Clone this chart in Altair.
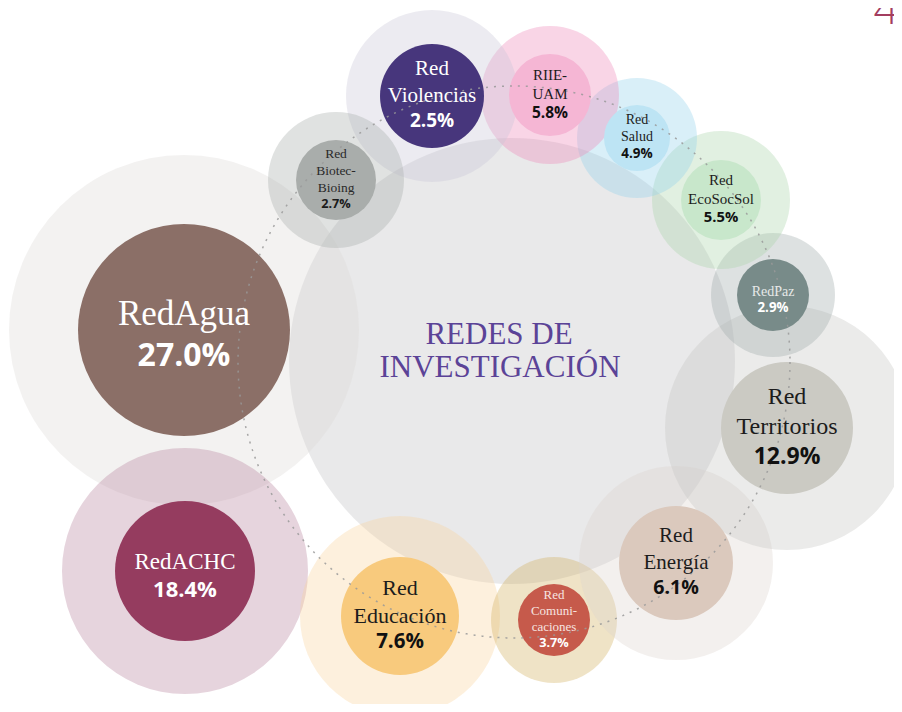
import altair as alt
import pandas as pd

# ---------------- data ----------------
label_lines = [["RedAgua"], ["RedACHC"], ["Red", "Educación"], ["Red", "Comuni-", "caciones"],
               ["Red", "Energía"], ["Red", "Territorios"], ["RedPaz"], ["Red", "EcoSocSol"],
               ["Red", "Salud"], ["RIIE-", "UAM"], ["Red", "Violencias"], ["Red", "Biotec-", "Bioing"]]
shares = [27.0, 18.4, 7.6, 3.7, 6.1, 12.9, 2.9, 5.5, 4.9, 5.8, 2.5, 2.7]
cx = [184, 185, 400, 554, 676, 787, 773, 721, 637, 550, 432, 336]
cy = [330, 571, 616, 620, 563, 428, 295, 200, 138, 95, 96, 180]
r_inner = [106, 70, 59, 36, 57, 66, 36, 40, 33, 41, 52, 40]
r_outer = [175, 123, 100, 63, 97, 122, 62, 69, 60, 69, 86, 68]
inner_colors = ["#8b6f67", "#953c5f", "#f8ca7d", "#c65a4b", "#dbc9bd", "#cbcac3",
                "#788b89", "#c8e7cb", "#bde4f4", "#f5b6d4", "#47367c", "#a9adab"]
halo_colors = ["#f3f2f1", "#e6d4dd", "#fdf0dd", "#efe3c6", "#f3f0ee", "#ebebea",
               "#dde1e1", "#e1f0e1", "#d9eff8", "#f9d5e6", "#ecebf1", "#e0e2e1"]
name_colors = ["#ffffff", "#ffffff", "#1c1c1c", "#f6e4e0", "#1c1c1c", "#1c1c1c",
               "#e6e9e8", "#1c1c1c", "#1c1c1c", "#1c1c1c", "#ffffff", "#2a2a2a"]
pct_colors = ["#ffffff", "#ffffff", "#111111", "#ffffff", "#111111", "#111111",
              "#ffffff", "#111111", "#111111", "#111111", "#ffffff", "#1a1a1a"]
name_sizes = [35, 23, 22, 13, 21, 24, 14, 15, 14, 15, 21, 13.5]
pct_sizes = [32, 22, 20.5, 12.7, 19.6, 23, 13.3, 14.8, 13.5, 15.5, 19, 12.7]

center_circle = {"x": [512], "y": [361], "r": [223], "color": ["#e9e9ea"]}
ring = {"x": [514], "y": [362], "r": [276]}
title_lines = ["REDES DE", "INVESTIGACIÓN"]
title_pos = {"x": [499, 500], "y": [335, 368]}
page_number = {"x": [886], "y": [11], "text": ["4"]}

HALO_ALPHA = 0.35
CENTER_ALPHA = 0.3


def through_alpha(hex_color, alpha):
    h = hex_color.lstrip("#")
    comps = [int(h[k:k + 2], 16) for k in (0, 2, 4)]
    out = [max(0, min(255, round((c - (1 - alpha) * 255) / alpha))) for c in comps]
    return "#%02x%02x%02x" % tuple(out)


X = alt.X("x:Q", scale=alt.Scale(domain=[8, 894], nice=False, zero=False), axis=None)
Y = alt.Y("y:Q", scale=alt.Scale(domain=[8, 704], nice=False, zero=False, reverse=True), axis=None)

# circles
center_df = pd.DataFrame({"x": center_circle["x"], "y": center_circle["y"],
                          "s": [4 * r * r for r in center_circle["r"]],
                          "c": [through_alpha(c, CENTER_ALPHA) for c in center_circle["color"]]})
halo_df = pd.DataFrame({"x": cx, "y": cy, "s": [4 * r * r for r in r_outer],
                        "c": [through_alpha(c, HALO_ALPHA) for c in halo_colors]})
inner_df = pd.DataFrame({"x": cx, "y": cy, "s": [4 * r * r for r in r_inner], "c": inner_colors})
ring_df = pd.DataFrame({"x": ring["x"], "y": ring["y"], "s": [4 * r * r for r in ring["r"]]})

# text layout
name_rows, pct_rows = [], []
for i, lines in enumerate(label_lines):
    n = len(lines)
    lh = 1.25 * name_sizes[i]
    g = 0.6 * name_sizes[i] + 0.64 * pct_sizes[i]
    span = (n - 1) * lh + g
    d = 5 if n == 1 else -1
    y0 = cy[i] + d - span / 2
    for j, t in enumerate(lines):
        name_rows.append({"x": cx[i], "y": y0 + j * lh, "t": t, "fs": name_sizes[i], "col": name_colors[i]})
    pct_rows.append({"x": cx[i], "y": y0 + (n - 1) * lh + g, "t": f"{shares[i]:.1f}%",
                     "fs": pct_sizes[i], "col": pct_colors[i]})
names_df = pd.DataFrame(name_rows)
pct_df = pd.DataFrame(pct_rows)
title_df = pd.DataFrame({"x": title_pos["x"], "y": title_pos["y"], "t": title_lines})
num_df = pd.DataFrame(page_number)

center_layer = alt.Chart(center_df).mark_circle(opacity=CENTER_ALPHA).encode(
    x=X, y=Y, size=alt.Size("s:Q", scale=None), color=alt.Color("c:N", scale=None))
halo_layer = alt.Chart(halo_df).mark_circle(opacity=HALO_ALPHA).encode(
    x=X, y=Y, size=alt.Size("s:Q", scale=None), color=alt.Color("c:N", scale=None))
inner_layer = alt.Chart(inner_df).mark_circle(opacity=1).encode(
    x=X, y=Y, size=alt.Size("s:Q", scale=None), color=alt.Color("c:N", scale=None))
ring_layer = alt.Chart(ring_df).mark_point(
    shape="circle", filled=False, strokeDash=[2, 6], strokeWidth=1.5, color="#9a9a9a", opacity=0.85
).encode(x=X, y=Y, size=alt.Size("s:Q", scale=None))
names_layer = alt.Chart(names_df).mark_text(
    font="Liberation Serif", baseline="middle", align="center"
).encode(x=X, y=Y, text="t:N", size=alt.Size("fs:Q", scale=None), color=alt.Color("col:N", scale=None))
pct_layer = alt.Chart(pct_df).mark_text(
    font="Open Sans", fontWeight="bold", baseline="middle", align="center"
).encode(x=X, y=Y, text="t:N", size=alt.Size("fs:Q", scale=None), color=alt.Color("col:N", scale=None))
title_layer = alt.Chart(title_df).mark_text(
    font="Liberation Serif", fontSize=31, color="#5b4397", baseline="middle", align="center"
).encode(x=X, y=Y, text="t:N")
num_layer = alt.Chart(num_df).mark_text(
    font="Open Sans", fontWeight=300, fontSize=44, color="#a33d5f", baseline="middle", align="center"
).encode(x=X, y=Y, text="text:N")

chart = alt.layer(center_layer, halo_layer, inner_layer, ring_layer, names_layer, pct_layer,
                  title_layer, num_layer).properties(
    width=886, height=696, padding=0, autosize=alt.AutoSizeParams(type="none"),
    background="#ffffff"
).configure_view(stroke=None)

chart.save("out.html", embed_options={"renderer": "svg", "actions": False})
